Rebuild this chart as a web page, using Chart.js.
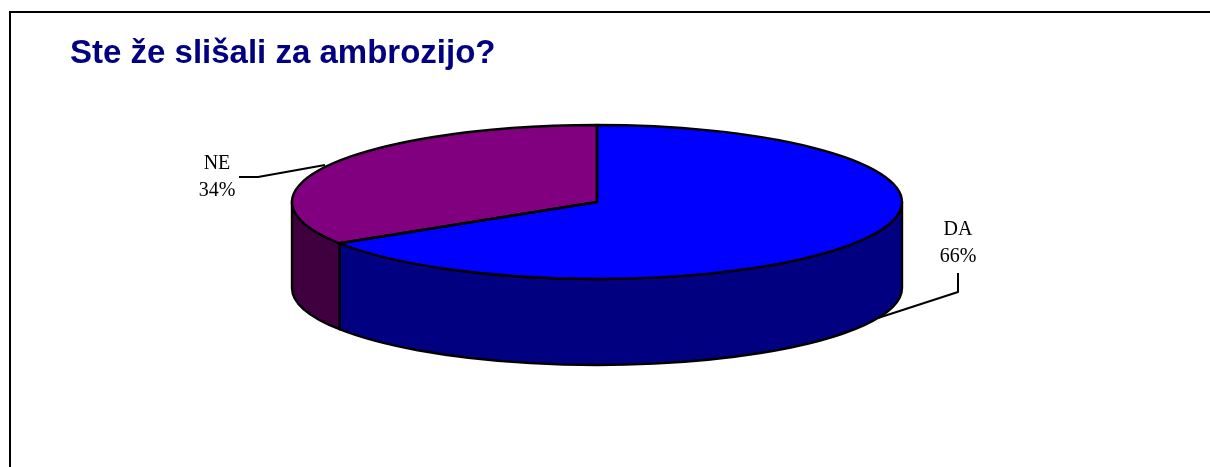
<!DOCTYPE html>
<html>
<head>
<meta charset="utf-8">
<script src="https://cdn.jsdelivr.net/npm/chart.js@4/dist/chart.umd.min.js"></script>
<style>
  html, body { margin: 0; padding: 0; background: #ffffff; }
  #wrap { position: relative; width: 1210px; height: 467px; overflow: hidden; }
  canvas { display: block; }
</style>
</head>
<body>
<div id="wrap"><canvas id="c" width="1210" height="467"></canvas></div>
<script>
// ---- data ----
const titleText = 'Ste že slišali za ambrozijo?';
const categories = ['DA', 'NE'];
const values = [66, 34];

// ---- styles ----
const topColors = ['#0000FF', '#800080'];
const sideColors = ['#000080', '#400040'];

// ---- 3D geometry (layout) ----
const GEO = { cx: 597, cy: 202, rx: 305, ry: 77, depth: 86 };
const LABEL_LAYOUT = [
  { x: 958, y1: 235, y2: 262, leader: [[958, 273], [958, 292], [878, 318]] },
  { x: 217, y1: 169, y2: 196, leader: [[239, 177], [258, 177], [325, 165]] }
];

function wallRanges(a, b) {
  const out = [];
  for (const shift of [0, 2 * Math.PI, -2 * Math.PI]) {
    const lo = Math.max(a + shift, 0), hi = Math.min(b + shift, Math.PI);
    if (hi > lo + 1e-6) out.push([lo, hi]);
  }
  return out;
}

const pie3d = {
  id: 'pie3d',
  beforeDraw(chart) {
    const ctx = chart.ctx;
    ctx.save();
    ctx.fillStyle = '#000';
    ctx.fillRect(9, 11, 1201, 2);
    ctx.fillRect(9, 11, 2, 456);
    ctx.restore();
  },
  beforeDatasetsDraw(chart) {
    const ctx = chart.ctx;
    const arcs = chart.getDatasetMeta(0).data;
    const { cx, cy, rx, ry, depth } = GEO;
    ctx.save();
    ctx.lineWidth = 2.4;
    ctx.strokeStyle = '#000';
    ctx.lineJoin = 'round';
    arcs.forEach((arc, i) => {
      const p = arc.getProps(['startAngle', 'endAngle'], true);
      wallRanges(p.startAngle, p.endAngle).forEach(([lo, hi]) => {
        ctx.beginPath();
        ctx.moveTo(cx + rx * Math.cos(lo), cy + ry * Math.sin(lo));
        ctx.ellipse(cx, cy, rx, ry, 0, lo, hi, false);
        ctx.lineTo(cx + rx * Math.cos(hi), cy + depth + ry * Math.sin(hi));
        ctx.ellipse(cx, cy + depth, rx, ry, 0, hi, lo, true);
        ctx.closePath();
        ctx.fillStyle = sideColors[i];
        ctx.fill();
        ctx.stroke();
      });
    });
    ctx.restore();
    // map the library's circle onto the top ellipse
    const pr = arcs[0].getProps(['x', 'y', 'outerRadius'], true);
    ctx.save();
    ctx.translate(cx, cy);
    ctx.scale(rx / pr.outerRadius, ry / pr.outerRadius);
    ctx.translate(-pr.x, -pr.y);
  },
  afterDatasetsDraw(chart) {
    const ctx = chart.ctx;
    ctx.restore();
    const arcs = chart.getDatasetMeta(0).data;
    const { cx, cy, rx, ry } = GEO;
    ctx.save();
    ctx.lineWidth = 2.4;
    ctx.strokeStyle = '#000';
    ctx.lineJoin = 'round';
    arcs.forEach((arc) => {
      const p = arc.getProps(['startAngle', 'endAngle'], true);
      ctx.beginPath();
      ctx.moveTo(cx, cy);
      ctx.lineTo(cx + rx * Math.cos(p.startAngle), cy + ry * Math.sin(p.startAngle));
      ctx.ellipse(cx, cy, rx, ry, 0, p.startAngle, p.endAngle, false);
      ctx.closePath();
      ctx.stroke();
    });
    // labels
    const total = values.reduce((s, v) => s + v, 0);
    ctx.fillStyle = '#000';
    ctx.font = '20px "Liberation Serif", "Times New Roman", serif';
    ctx.textAlign = 'center';
    ctx.textBaseline = 'alphabetic';
    categories.forEach((cat, i) => {
      const L = LABEL_LAYOUT[i];
      ctx.fillText(cat, L.x, L.y1);
      ctx.fillText(Math.round(values[i] / total * 100) + '%', L.x, L.y2);
      ctx.beginPath();
      ctx.lineWidth = 2;
      L.leader.forEach((pt, k) => k ? ctx.lineTo(pt[0], pt[1]) : ctx.moveTo(pt[0], pt[1]));
      ctx.stroke();
    });
    ctx.restore();
  }
};

new Chart(document.getElementById('c'), {
  type: 'pie',
  data: {
    labels: categories,
    datasets: [{ data: values, backgroundColor: topColors, borderWidth: 0 }]
  },
  options: {
    responsive: false,
    animation: false,
    devicePixelRatio: 1,
    events: [],
    layout: { padding: { left: 70, right: 0, top: 0, bottom: 0 } },
    plugins: {
      legend: { display: false },
      tooltip: { enabled: false },
      title: {
        display: true,
        text: titleText,
        align: 'start',
        color: '#000080',
        font: { family: '"Liberation Sans", Arial, sans-serif', size: 33, weight: 'bold', lineHeight: 1.2 },
        padding: { top: 34, bottom: 0 }
      }
    }
  },
  plugins: [pie3d]
});
</script>
</body>
</html>
